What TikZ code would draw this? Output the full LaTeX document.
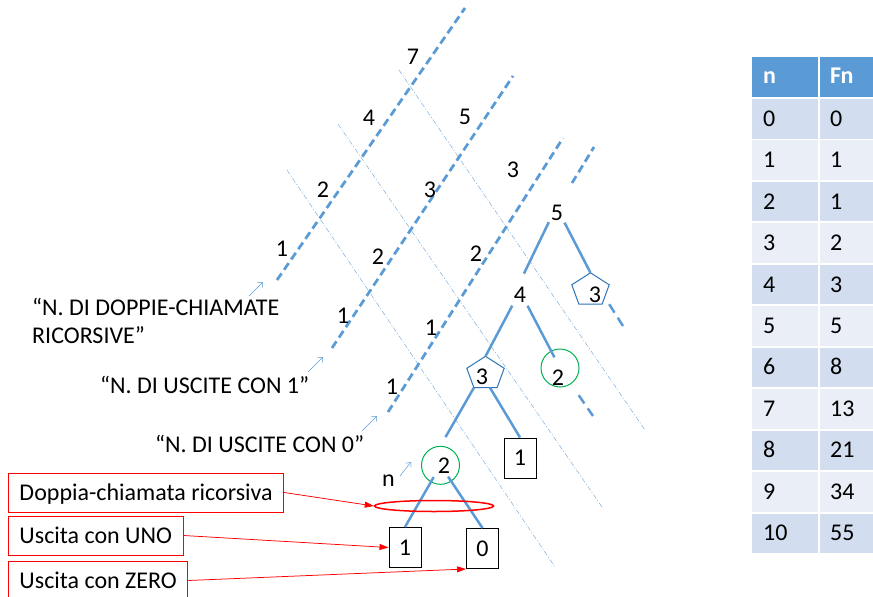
\documentclass[tikz,border=0pt]{standalone}
\usepackage{fontspec}
\setmainfont{Carlito}
\usetikzlibrary{calc,shapes.geometric,arrows.meta}
\definecolor{accent}{RGB}{91,155,213}
\definecolor{pentblue}{RGB}{46,117,182}
\definecolor{okgreen}{RGB}{0,176,80}
\definecolor{rowdark}{RGB}{210,222,239}
\definecolor{rowlight}{RGB}{234,239,247}
\begin{document}
\begin{tikzpicture}[x=1pt,y=-1pt,
  every node/.style={font=\fontsize{24}{28.5}\selectfont, inner sep=0pt},
  diagline/.style={accent, line width=2.75pt, dash pattern=on 8pt off 4.5pt},
  guide/.style={accent!80, line width=0.5pt, dash pattern=on 5pt off 2pt on 1pt off 2pt},
  edge/.style={accent, line width=2.5pt},
  stub/.style={accent, line width=2.5pt, dash pattern=on 10pt off 6pt},
  leaf/.style={draw=black, line width=1pt, minimum width=32pt, minimum height=40pt},
  ring/.style={circle, draw=okgreen, line width=1pt, minimum size=38pt},
  pentbox/.style={minimum width=37pt, minimum height=31pt},
  pentline/.style={draw=pentblue, line width=1pt},
  tag/.style={draw=red, line width=1pt, minimum height=39pt, anchor=west,
              inner xsep=11pt, text height=15pt, text depth=0pt},
  pointer/.style={red, line width=0.75pt, -{Triangle[length=9pt,width=6pt]}},
  note/.style={accent, line width=0.5pt, -{Straight Barb[length=4pt,width=7pt]}},
  num/.style={anchor=base},
]
\useasboundingbox (0,0) rectangle (873,597);

% thin dash-dot guides
\draw[guide] (287,170) -- (555,567);
\draw[guide] (338,124) -- (602,507);
\draw[guide] (399,70) -- (645,430);

% thick dashed diagonals
\coordinate (A0) at (277,280); \coordinate (A1) at (465,8);
\coordinate (B0) at (332,348); \coordinate (B1) at (513,76);
\coordinate (C0) at (388,412); \coordinate (C1) at (563,138);
\coordinate (D0) at (572,183); \coordinate (D1) at (594,147);
\draw[diagline] (A0) -- (A1);
\draw[diagline] (B0) -- (B1);
\draw[diagline] (C0) -- (C1);
\draw[diagline] (D0) -- (D1);

% counts along the diagonals
\node[num] (a1) at (282,256.5) {1};
\node[num] (a2) at (323,197) {2};
\node[num] (a3) at (369,125.5) {4};
\node[num] (a4) at (413,64.5) {7};
\node[num] (b1n) at (343,323.5) {1};
\node[num] (b2n) at (378,264.5) {2};
\node[num] (b3n) at (430,197.5) {3};
\node[num] (b4n) at (465,124.5) {5};
\node[num] (c1n) at (392,394.5) {1};
\node[num] (c2n) at (431,335.5) {1};
\node[num] (c3n) at (476,261.5) {2};
\node[num] (c4n) at (513,177.5) {3};

% captions
\node[anchor=base west, align=left] (capDouble) at (32,343.5) {“N. DI DOPPIE-CHIAMATE\\RICORSIVE”};
\node[anchor=base west] (capOne) at (100,393.5) {“N. DI USCITE CON 1”};
\node[anchor=base west] (capZero) at (155,452.5) {“N. DI USCITE CON 0”};
\node[anchor=base] (lbln) at (388.5,486) {n};

\coordinate (qA0) at (249,296); \coordinate (qA1) at (263,282);
\coordinate (qB0) at (308,372); \coordinate (qB1) at (323,357);
\coordinate (qC0) at (362,431); \coordinate (qC1) at (377,416);
\coordinate (qN0) at (400,476); \coordinate (qN1) at (411,462);
\draw[note] (qA0) -- (qA1);
\draw[note] (qB0) -- (qB1);
\draw[note] (qC0) -- (qC1);
\draw[note] (qN0) -- (qN1);

% recursion tree
\node[circle, minimum size=24pt] (t5) at (557,213) {5};
\node[circle, minimum size=26pt] (t4) at (520,295) {4};
\node[pentbox, label={[xshift=4.5pt,yshift=-6.5pt]center:3}] (p3a) at (590.5,288.5) {};
\node[pentbox, label={[xshift=-3.5pt,yshift=-4.5pt]center:3}] (p3b) at (485.5,372) {};
\node[ring, label={[xshift=-2pt,yshift=-9.5pt]center:2}] (c2r) at (560,368) {};
\node[ring, label={[xshift=3.5pt,yshift=-0.5pt]center:2}] (c2b) at (440.5,465.3) {};
\node[leaf] (b1m) at (520,458) {1};
\node[leaf] (b1) at (405,547.5) {1};
\node[leaf] (b0) at (482.5,548.5) {0};

\foreach \p in {p3a,p3b}
  \draw[pentline] (\p.north) -- ($(\p.north west)!0.382!(\p.south west)$)
    -- ($(\p.south west)!0.19!(\p.south east)$) -- ($(\p.south west)!0.81!(\p.south east)$)
    -- ($(\p.north east)!0.382!(\p.south east)$) -- cycle;

\draw[edge, shorten >=9pt] (t5.228) -- (t4.north);
\draw[edge] (t5.308) -- (p3a.north);
\draw[edge] (t4.234) -- (p3b.north);
\draw[edge, shorten >=12pt] (t4.305) -- (c2r.center);
\draw[edge, shorten >=10pt] ($(p3b.south west)!0.19!(p3b.south east)$) -- (c2b.north);
\draw[edge] ($(p3b.south west)!0.62!(p3b.south east)$) -- (b1m.north);
\draw[edge, shorten <=13.6pt] (c2b.center) -- (b1.north);
\draw[edge, shorten <=13.6pt] (c2b.center) -- (b0.north);

\coordinate (s1) at (623,326);
\coordinate (s2) at (593,416);
\draw[stub] (p3a.south east) -- (s1);
\draw[stub, shorten <=33pt] (c2r.center) -- (s2);

% legend boxes
\node[ellipse, draw=red, line width=1.5pt, minimum width=119pt, minimum height=11pt] (pair) at (434,506) {};
\node[tag] (tagCall) at (8,492.5) {Doppia-chiamata ricorsiva};
\node[tag] (tagOne) at (8,535.5) {Uscita con UNO};
\node[tag] (tagZero) at (8,580.5) {Uscita con ZERO};
\draw[pointer] (tagCall.east) -- (pair.west);
\draw[pointer] (tagOne.east) -- (b1.west);
\draw[pointer] (tagZero.east) -- (b0.south west);

% table of Fibonacci numbers
\fill[accent] (752,57) rectangle (818,97);
\fill[accent] (820,57) rectangle (880,97);
\node[anchor=base west, text=white, font=\fontsize{24}{28.5}\selectfont\bfseries] (hn) at (763,83.5) {n};
\node[anchor=base west, text=white, font=\fontsize{24}{28.5}\selectfont\bfseries] (hf) at (830,83.5) {Fn};
\foreach \n/\f [count=\i from 0] in {0/0,1/1,2/1,3/2,4/3,5/5,6/8,7/13,8/21,9/34,10/55}{
  \ifodd\i\def\rowcol{rowlight}\else\def\rowcol{rowdark}\fi
  \pgfmathsetmacro{\ytop}{99+41.45*\i}
  \fill[\rowcol] (752,\ytop) rectangle (818,\ytop+39.5);
  \fill[\rowcol] (820,\ytop) rectangle (880,\ytop+39.5);
  \node[anchor=base west] (n\i) at (763,\ytop+27.25) {\n};
  \node[anchor=base west] (f\i) at (830,\ytop+27.25) {\f};
}
\end{tikzpicture}
\end{document}
